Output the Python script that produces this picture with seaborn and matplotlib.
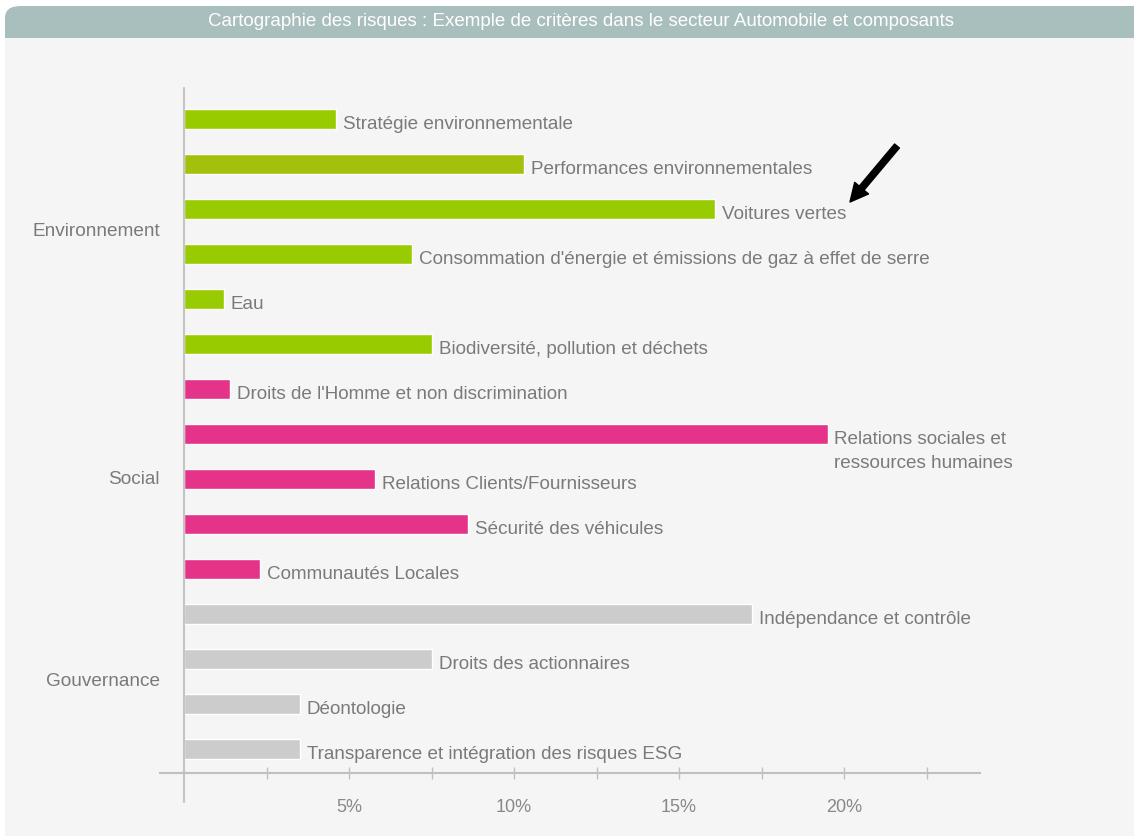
import numpy as np
import matplotlib.pyplot as plt
import pandas as pd
import seaborn as sns
from matplotlib.patches import FancyBboxPatch, Rectangle

criteres = ["Stratégie environnementale", "Performances environnementales", "Voitures vertes",
            "Consommation d'énergie et émissions de gaz à effet de serre", "Eau",
            "Biodiversité, pollution et déchets", "Droits de l'Homme et non discrimination",
            "Relations sociales et\nressources humaines", "Relations Clients/Fournisseurs",
            "Sécurité des véhicules", "Communautés Locales", "Indépendance et contrôle",
            "Droits des actionnaires", "Déontologie", "Transparence et intégration des risques ESG"]
valeurs = [4.6, 10.3, 16.1, 6.9, 1.2, 7.5, 1.4, 19.5, 5.8, 8.6, 2.3, 17.2, 7.5, 3.5, 3.5]
groupes = ["Environnement"] * 6 + ["Social"] * 5 + ["Gouvernance"] * 4
couleurs = ["#99cc00", "#a3c00c", "#99cc00", "#99cc00", "#99cc00", "#99cc00",
            "#e5338a", "#e5338a", "#e5338a", "#e5338a", "#e5338a",
            "#cccccc", "#cccccc", "#cccccc", "#cccccc"]
ticks = [2.5, 5, 7.5, 10, 12.5, 15, 17.5, 20, 22.5]
tick_labels = ["", "5%", "", "10%", "", "15%", "", "20%", ""]
titre = "Cartographie des risques : Exemple de critères dans le secteur Automobile et composants"

df = pd.DataFrame({"critere": criteres, "valeur": valeurs, "groupe": groupes})

sns.set_style("white")
plt.rcParams["font.family"] = ["Liberation Sans", "DejaVu Sans"]
gris = "#7a7a7a"

W, H = 1134, 839
fig = plt.figure(figsize=(W / 100, H / 100), dpi=100, facecolor="white")
# fond gris clair + bandeau titre
fig.patches.append(Rectangle((5 / W, 3 / H), 1 - 5 / W, (801 - 3) / H, transform=fig.transFigure,
                             facecolor="#f5f5f5", edgecolor="none", zorder=-3))
fig.patches.append(FancyBboxPatch((5 / W, (839 - 38) / H), 1.05 - 5 / W, 32 / H,
                                  boxstyle="round,pad=0,rounding_size=0.014", transform=fig.transFigure,
                                  facecolor="#a9bfbd", edgecolor="none", zorder=-2))
fig.patches.append(Rectangle((5 / W, (839 - 38) / H), 1 - 5 / W, 14 / H, transform=fig.transFigure,
                             facecolor="#a9bfbd", edgecolor="none", zorder=-2))
fig.text(581 / W, (839 - 21) / H, titre, color="white", ha="center", va="center", fontsize=13.5)

ax = fig.add_axes([160 / W, (839 - 773) / H, (980 - 160) / W, (773 - 88) / H])
ax.set_facecolor("none")
sns.barplot(data=df, x="valeur", y="critere", hue="critere", palette=couleurs, legend=False,
            width=0.44, orient="h", ax=ax, saturation=1)
ax.set_xlim(-0.73, 24.12)
ax.set_ylim(14.53, -0.69)

for i, (c, v) in enumerate(zip(criteres, valeurs)):
    if "\n" in c:
        ax.annotate(c, (v, i), xytext=(5, 2), textcoords="offset points", va="top", ha="left",
                    color=gris, fontsize=13.6, linespacing=1.55)
    else:
        ax.annotate(c, (v, i), xytext=(5, -4), textcoords="offset points", va="center", ha="left",
                    color=gris, fontsize=13.6)

for g in ["Environnement", "Social", "Gouvernance"]:
    pos = np.mean([i for i, gg in enumerate(groupes) if gg == g])
    ax.text(0.0, pos, g, transform=ax.get_yaxis_transform(), ha="right", va="center",
            color=gris, fontsize=13.7)

ax.plot([0, 0], [1, -0.043], transform=ax.get_xaxis_transform(), color="#c4c4c4", lw=1.5, clip_on=False)

ax.set_yticks([])
ax.set_xticks(ticks)
ax.set_xticklabels(tick_labels)
ax.tick_params(axis="x", direction="inout", length=9, width=1, color="#c0c0c0", labelcolor="#888888",
               labelsize=13, pad=14, bottom=True)
for s in ["top", "right", "left"]:
    ax.spines[s].set_visible(False)
ax.spines["bottom"].set_color("#c0c0c0")
ax.spines["bottom"].set_linewidth(1.5)
ax.set_xlabel("")
ax.set_ylabel("")

ax.annotate("", xy=(850, 839 - 202), xytext=(897, 839 - 146), xycoords="figure pixels",
            textcoords="figure pixels",
            arrowprops=dict(arrowstyle="simple,head_length=1.3,head_width=1.3,tail_width=0.45",
                            color="black", shrinkA=0, shrinkB=0))

fig.savefig("out.png", dpi=100, facecolor="white")
